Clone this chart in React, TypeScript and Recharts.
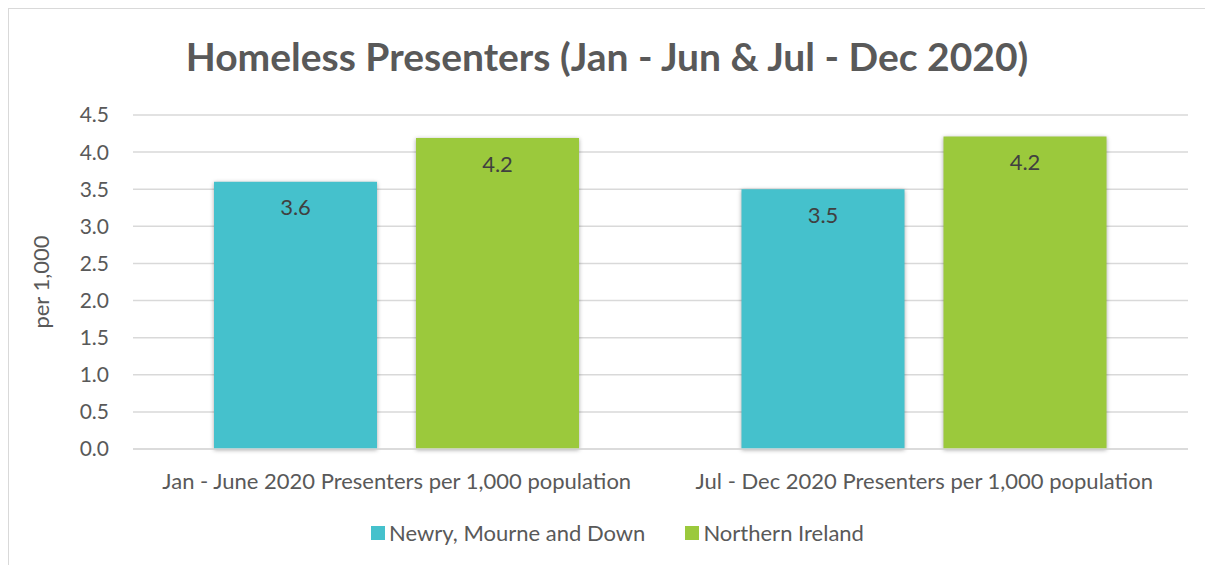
import * as React from 'react';
import { BarChart, Bar, XAxis, YAxis, CartesianGrid, Legend, LabelList } from 'recharts';

// ============================================================================
// Data
// ============================================================================

const categories = [
  'Jan - June 2020 Presenters per 1,000 population',
  'Jul - Dec 2020 Presenters per 1,000 population',
];
const newryValues = [3.6, 3.5];
const niValues = [4.19, 4.21];
const yTicks = [0, 0.5, 1, 1.5, 2, 2.5, 3, 3.5, 4, 4.5];

const data = categories.map((name, i) => ({
  name,
  newry: newryValues[i],
  ni: niValues[i],
}));

const FONT = 'Lato, "Open Sans", sans-serif';
const TEXT = '#595959';

function ShadowBar(props: any) {
  const { x, y, width, height, fill } = props;
  return (
    <rect
      x={x}
      y={y}
      width={width}
      height={height}
      fill={fill}
      style={{ filter: 'drop-shadow(0px 1px 2px rgba(0,0,0,0.35))' }}
    />
  );
}

function LegendContent({ payload }: any) {
  return (
    <div
      style={{
        display: 'flex',
        justifyContent: 'center',
        gap: 40,
        paddingLeft: 28,
        fontSize: 22,
        fontFamily: FONT,
      }}
    >
      {(payload || []).map((p: any) => (
        <span key={p.value} style={{ display: 'flex', alignItems: 'center', color: TEXT }}>
          <span
            style={{ width: 14, height: 14, background: p.color, marginRight: 4, display: 'inline-block' }}
          />
          {p.value}
        </span>
      ))}
    </div>
  );
}

export default function App() {
  return (
    <div
      style={{
        position: 'relative',
        width: 1205,
        height: 557,
        borderTop: '1px solid #d9d9d9',
        borderLeft: '1px solid #d9d9d9',
        boxSizing: 'border-box',
        fontFamily: FONT,
        background: '#fff',
      }}
    >
      <div
        style={{
          position: 'absolute',
          top: 24,
          left: 0,
          width: 1196,
          textAlign: 'center',
          fontSize: 39,
          fontWeight: 700,
          color: TEXT,
        }}
      >
        Homeless Presenters (Jan - Jun &amp; Jul - Dec 2020)
      </div>
      <BarChart
        width={1195}
        height={555}
        data={data}
        margin={{ top: 106, right: 16, left: 10, bottom: 0 }}
        barSize={163}
        barGap={39}
      >
        <CartesianGrid vertical={false} stroke="#d9d9d9" strokeWidth={1.5} />
        <XAxis
          dataKey="name"
          tickLine={false}
          axisLine={{ stroke: '#d9d9d9', strokeWidth: 1.5 }}
          tickSize={0}
          tickMargin={24}
          tick={{ fill: TEXT, fontSize: 22, fontFamily: FONT }}
          height={88}
        />
        <YAxis
          domain={[0, 4.5]}
          ticks={yTicks}
          tickFormatter={(v: number) => v.toFixed(1)}
          axisLine={false}
          tickLine={false}
          tickSize={0}
          tickMargin={24}
          width={114}
          tick={{ fill: TEXT, fontSize: 21, fontFamily: FONT }}
          label={{
            value: 'per 1,000',
            angle: -90,
            position: 'insideLeft',
            offset: 22,
            style: { fill: TEXT, fontSize: 22, fontFamily: FONT, textAnchor: 'middle' },
          }}
        />
        <Legend verticalAlign="bottom" content={<LegendContent />} wrapperStyle={{ bottom: 18 }} />
        <Bar
          dataKey="newry"
          name="Newry, Mourne and Down"
          fill="#45C1CC"
          shape={<ShadowBar />}
          isAnimationActive={false}
        >
          <LabelList
            dataKey="newry"
            position="insideTop"
            offset={18}
            formatter={(v: number) => v.toFixed(1)}
            style={{ fill: '#404040', fontSize: 22, fontFamily: FONT }}
          />
        </Bar>
        <Bar
          dataKey="ni"
          name="Northern Ireland"
          fill="#9BC93C"
          shape={<ShadowBar />}
          isAnimationActive={false}
        >
          <LabelList
            dataKey="ni"
            position="insideTop"
            offset={18}
            formatter={(v: number) => v.toFixed(1)}
            style={{ fill: '#404040', fontSize: 22, fontFamily: FONT }}
          />
        </Bar>
      </BarChart>
    </div>
  );
}
